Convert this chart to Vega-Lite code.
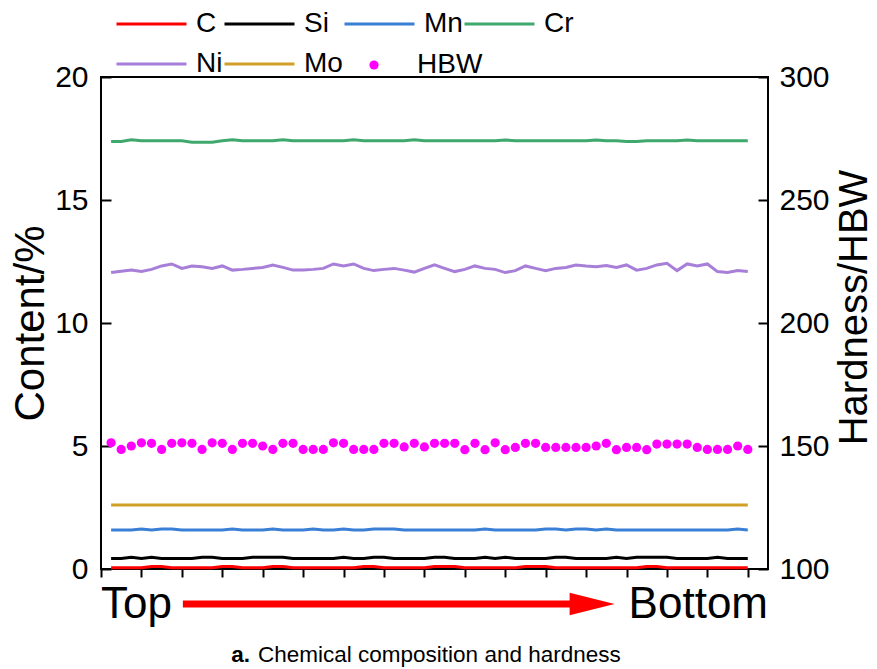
{
"$schema":"https://vega.github.io/schema/vega-lite/v6.json",
"width":667,"height":492,
"autosize":"none",
"padding":{"left":101,"top":77,"right":109,"bottom":100},
"background":"white",
"config":{"font":"Liberation Sans","view":{"stroke":"black","strokeWidth":2},"axis":{"grid":false,"domain":false,"labelColor":"black","titleColor":"black","tickColor":"black","tickWidth":2}},
"datasets":{"main":[
{"x":1,"C":0.05,"Si":0.43,"Mn":1.59,"Cr":17.38,"Ni":12.05,"Mo":2.6,"HBW":151.3},
{"x":2,"C":0.05,"Si":0.43,"Mn":1.59,"Cr":17.38,"Ni":12.10,"Mo":2.6,"HBW":148.6},
{"x":3,"C":0.05,"Si":0.48,"Mn":1.59,"Cr":17.45,"Ni":12.15,"Mo":2.6,"HBW":150.0},
{"x":4,"C":0.05,"Si":0.43,"Mn":1.63,"Cr":17.41,"Ni":12.09,"Mo":2.6,"HBW":151.3},
{"x":5,"C":0.1,"Si":0.48,"Mn":1.59,"Cr":17.41,"Ni":12.18,"Mo":2.6,"HBW":151.1},
{"x":6,"C":0.1,"Si":0.43,"Mn":1.63,"Cr":17.41,"Ni":12.32,"Mo":2.6,"HBW":148.6},
{"x":7,"C":0.05,"Si":0.43,"Mn":1.63,"Cr":17.41,"Ni":12.40,"Mo":2.6,"HBW":151.1},
{"x":8,"C":0.05,"Si":0.43,"Mn":1.59,"Cr":17.41,"Ni":12.22,"Mo":2.6,"HBW":151.3},
{"x":9,"C":0.05,"Si":0.43,"Mn":1.59,"Cr":17.35,"Ni":12.32,"Mo":2.6,"HBW":151.1},
{"x":10,"C":0.05,"Si":0.48,"Mn":1.59,"Cr":17.35,"Ni":12.29,"Mo":2.6,"HBW":148.6},
{"x":11,"C":0.05,"Si":0.48,"Mn":1.59,"Cr":17.35,"Ni":12.22,"Mo":2.6,"HBW":151.3},
{"x":12,"C":0.1,"Si":0.43,"Mn":1.59,"Cr":17.41,"Ni":12.32,"Mo":2.6,"HBW":151.1},
{"x":13,"C":0.1,"Si":0.43,"Mn":1.63,"Cr":17.45,"Ni":12.15,"Mo":2.6,"HBW":148.6},
{"x":14,"C":0.05,"Si":0.43,"Mn":1.59,"Cr":17.41,"Ni":12.18,"Mo":2.6,"HBW":151.1},
{"x":15,"C":0.05,"Si":0.48,"Mn":1.59,"Cr":17.41,"Ni":12.22,"Mo":2.6,"HBW":151.1},
{"x":16,"C":0.05,"Si":0.48,"Mn":1.59,"Cr":17.41,"Ni":12.26,"Mo":2.6,"HBW":150.0},
{"x":17,"C":0.1,"Si":0.48,"Mn":1.63,"Cr":17.41,"Ni":12.36,"Mo":2.6,"HBW":148.6},
{"x":18,"C":0.1,"Si":0.48,"Mn":1.59,"Cr":17.45,"Ni":12.26,"Mo":2.6,"HBW":151.1},
{"x":19,"C":0.05,"Si":0.43,"Mn":1.59,"Cr":17.41,"Ni":12.15,"Mo":2.6,"HBW":151.1},
{"x":20,"C":0.05,"Si":0.43,"Mn":1.59,"Cr":17.41,"Ni":12.15,"Mo":2.6,"HBW":148.6},
{"x":21,"C":0.05,"Si":0.43,"Mn":1.63,"Cr":17.41,"Ni":12.18,"Mo":2.6,"HBW":148.6},
{"x":22,"C":0.05,"Si":0.43,"Mn":1.59,"Cr":17.41,"Ni":12.22,"Mo":2.6,"HBW":148.6},
{"x":23,"C":0.05,"Si":0.43,"Mn":1.59,"Cr":17.41,"Ni":12.40,"Mo":2.6,"HBW":151.3},
{"x":24,"C":0.05,"Si":0.48,"Mn":1.63,"Cr":17.41,"Ni":12.32,"Mo":2.6,"HBW":151.1},
{"x":25,"C":0.05,"Si":0.43,"Mn":1.59,"Cr":17.45,"Ni":12.40,"Mo":2.6,"HBW":148.6},
{"x":26,"C":0.1,"Si":0.43,"Mn":1.59,"Cr":17.41,"Ni":12.22,"Mo":2.6,"HBW":148.6},
{"x":27,"C":0.1,"Si":0.48,"Mn":1.63,"Cr":17.41,"Ni":12.13,"Mo":2.6,"HBW":148.6},
{"x":28,"C":0.05,"Si":0.48,"Mn":1.63,"Cr":17.41,"Ni":12.18,"Mo":2.6,"HBW":151.1},
{"x":29,"C":0.05,"Si":0.43,"Mn":1.63,"Cr":17.41,"Ni":12.22,"Mo":2.6,"HBW":151.1},
{"x":30,"C":0.05,"Si":0.43,"Mn":1.59,"Cr":17.41,"Ni":12.15,"Mo":2.6,"HBW":149.6},
{"x":31,"C":0.05,"Si":0.43,"Mn":1.59,"Cr":17.45,"Ni":12.07,"Mo":2.6,"HBW":151.1},
{"x":32,"C":0.05,"Si":0.43,"Mn":1.59,"Cr":17.41,"Ni":12.22,"Mo":2.6,"HBW":149.6},
{"x":33,"C":0.1,"Si":0.48,"Mn":1.59,"Cr":17.41,"Ni":12.36,"Mo":2.6,"HBW":151.1},
{"x":34,"C":0.1,"Si":0.48,"Mn":1.59,"Cr":17.41,"Ni":12.22,"Mo":2.6,"HBW":151.1},
{"x":35,"C":0.1,"Si":0.43,"Mn":1.59,"Cr":17.41,"Ni":12.09,"Mo":2.6,"HBW":151.1},
{"x":36,"C":0.05,"Si":0.43,"Mn":1.59,"Cr":17.41,"Ni":12.18,"Mo":2.6,"HBW":148.5},
{"x":37,"C":0.05,"Si":0.43,"Mn":1.59,"Cr":17.41,"Ni":12.32,"Mo":2.6,"HBW":151.1},
{"x":38,"C":0.05,"Si":0.48,"Mn":1.63,"Cr":17.41,"Ni":12.22,"Mo":2.6,"HBW":148.5},
{"x":39,"C":0.05,"Si":0.43,"Mn":1.59,"Cr":17.41,"Ni":12.18,"Mo":2.6,"HBW":151.3},
{"x":40,"C":0.05,"Si":0.48,"Mn":1.59,"Cr":17.44,"Ni":12.05,"Mo":2.6,"HBW":148.5},
{"x":41,"C":0.05,"Si":0.43,"Mn":1.59,"Cr":17.41,"Ni":12.13,"Mo":2.6,"HBW":149.4},
{"x":42,"C":0.1,"Si":0.43,"Mn":1.59,"Cr":17.41,"Ni":12.32,"Mo":2.6,"HBW":151.1},
{"x":43,"C":0.1,"Si":0.43,"Mn":1.59,"Cr":17.41,"Ni":12.22,"Mo":2.6,"HBW":151.1},
{"x":44,"C":0.1,"Si":0.43,"Mn":1.63,"Cr":17.41,"Ni":12.13,"Mo":2.6,"HBW":149.4},
{"x":45,"C":0.05,"Si":0.48,"Mn":1.63,"Cr":17.41,"Ni":12.22,"Mo":2.6,"HBW":149.4},
{"x":46,"C":0.05,"Si":0.48,"Mn":1.59,"Cr":17.41,"Ni":12.26,"Mo":2.6,"HBW":149.4},
{"x":47,"C":0.05,"Si":0.43,"Mn":1.63,"Cr":17.41,"Ni":12.36,"Mo":2.6,"HBW":149.4},
{"x":48,"C":0.05,"Si":0.43,"Mn":1.63,"Cr":17.41,"Ni":12.32,"Mo":2.6,"HBW":149.4},
{"x":49,"C":0.05,"Si":0.43,"Mn":1.59,"Cr":17.44,"Ni":12.29,"Mo":2.6,"HBW":150.0},
{"x":50,"C":0.05,"Si":0.43,"Mn":1.63,"Cr":17.41,"Ni":12.34,"Mo":2.6,"HBW":151.1},
{"x":51,"C":0.05,"Si":0.48,"Mn":1.59,"Cr":17.41,"Ni":12.26,"Mo":2.6,"HBW":148.5},
{"x":52,"C":0.05,"Si":0.43,"Mn":1.59,"Cr":17.38,"Ni":12.36,"Mo":2.6,"HBW":149.4},
{"x":53,"C":0.05,"Si":0.48,"Mn":1.59,"Cr":17.38,"Ni":12.15,"Mo":2.6,"HBW":149.4},
{"x":54,"C":0.1,"Si":0.48,"Mn":1.59,"Cr":17.41,"Ni":12.22,"Mo":2.6,"HBW":148.5},
{"x":55,"C":0.1,"Si":0.48,"Mn":1.59,"Cr":17.41,"Ni":12.36,"Mo":2.6,"HBW":150.8},
{"x":56,"C":0.05,"Si":0.48,"Mn":1.59,"Cr":17.41,"Ni":12.43,"Mo":2.6,"HBW":150.8},
{"x":57,"C":0.05,"Si":0.43,"Mn":1.59,"Cr":17.41,"Ni":12.13,"Mo":2.6,"HBW":150.8},
{"x":58,"C":0.05,"Si":0.43,"Mn":1.59,"Cr":17.44,"Ni":12.40,"Mo":2.6,"HBW":150.8},
{"x":59,"C":0.05,"Si":0.43,"Mn":1.59,"Cr":17.41,"Ni":12.32,"Mo":2.6,"HBW":149.4},
{"x":60,"C":0.05,"Si":0.43,"Mn":1.59,"Cr":17.41,"Ni":12.40,"Mo":2.6,"HBW":148.6},
{"x":61,"C":0.05,"Si":0.48,"Mn":1.59,"Cr":17.41,"Ni":12.09,"Mo":2.6,"HBW":148.6},
{"x":62,"C":0.05,"Si":0.43,"Mn":1.59,"Cr":17.41,"Ni":12.05,"Mo":2.6,"HBW":148.6},
{"x":63,"C":0.05,"Si":0.43,"Mn":1.63,"Cr":17.41,"Ni":12.13,"Mo":2.6,"HBW":150.0},
{"x":64,"C":0.05,"Si":0.43,"Mn":1.59,"Cr":17.41,"Ni":12.09,"Mo":2.6,"HBW":148.6}
]},
"data":{"name":"main"},
"layer":[
{"transform":[{"fold":["C","Si","Mn","Cr","Ni","Mo"],"as":["element","content"]}],
 "mark":{"type":"line","strokeWidth":3},
 "encoding":{
  "x":{"field":"x","type":"quantitative","scale":{"domain":[0,66],"nice":false,"zero":false},
       "axis":{"orient":"bottom","values":[0,2,4,6,8,10,12,14,16,18,20,22,24,26,28,30,32,34,36,38,40,42,44,46,48,50,52,54,56,58,60,62,64],"labels":false,"tickSize":8,"title":null}},
  "y":{"field":"content","type":"quantitative","scale":{"domain":[0,20],"nice":false},
       "axis":{"orient":"left","values":[0,5,10,15,20],"tickSize":-10,"labelPadding":23,"labelFontSize":30,"title":"Content/%","titleFontSize":42,"titleFontWeight":"normal","titleAngle":270,"titleBaseline":"middle","titleAlign":"center","titleX":-71,"titleY":246}},
  "stroke":{"field":"element","type":"nominal",
       "scale":{"domain":["C","Si","Mn","Cr","Ni","Mo"],"range":["#ff0000","#000000","#3a7fd6","#3ea86d","#a77fd8","#cf9f26"]},
       "legend":{"orient":"none","legendX":14,"legendY":-67,"columns":4,"direction":"horizontal","title":null,"symbolType":"stroke","symbolSize":4900,"symbolStrokeWidth":3,"clipHeight":28,"labelFontSize":28,"labelOffset":8,"columnPadding":-9,"rowPadding":12,"padding":0,"labelColor":"black"}}
 }},
{"mark":{"type":"point","filled":true,"shape":"circle","size":85,"opacity":1},
 "encoding":{
  "x":{"field":"x","type":"quantitative"},
  "y":{"field":"HBW","type":"quantitative","scale":{"domain":[100,300],"nice":false,"zero":false},
       "axis":{"orient":"right","values":[100,150,200,250,300],"tickSize":-10,"labelPadding":21,"labelFontSize":30,"title":"Hardness/HBW","titleFontSize":40,"titleFontWeight":"normal","titleAngle":270,"titleBaseline":"middle","titleAlign":"center","titleX":86,"titleY":230}},
  "fill":{"datum":"HBW","scale":{"domain":["HBW"],"range":["#ff00ff"]},
       "legend":{"orient":"none","legendX":259,"legendY":-26,"title":null,"symbolType":"circle","symbolSize":85,"labelFontSize":28,"labelOffset":29,"padding":0,"symbolStrokeWidth":0,"labelColor":"black"}}
 }},
{"data":{"values":[{"x1":8.1,"x2":47,"y":-1.42}]},
 "mark":{"type":"rule","color":"#ff0000","strokeWidth":7},
 "encoding":{"x":{"field":"x1","type":"quantitative"},"x2":{"field":"x2"},
  "y":{"field":"y","type":"quantitative","scale":{"domain":[0,20],"nice":false},"axis":null}}},
{"data":{"values":[{"x":48.6,"y":-1.42}]},
 "mark":{"type":"point","filled":true,"shape":"M-1,-0.5L1,0L-1,0.5Z","size":2025,"color":"#ff0000","opacity":1,"strokeWidth":0},
 "encoding":{"x":{"field":"x","type":"quantitative"},
  "y":{"field":"y","type":"quantitative","scale":{"domain":[0,20],"nice":false},"axis":null}}},
{"data":{"values":[{"x":0,"y":-2,"label":"Top"}]},
 "mark":{"type":"text","fontSize":44,"baseline":"alphabetic","align":"left","color":"black"},
 "encoding":{"x":{"field":"x","type":"quantitative"},
  "y":{"field":"y","type":"quantitative","scale":{"domain":[0,20],"nice":false},"axis":null},
  "text":{"field":"label"}}},
{"data":{"values":[{"x":66,"y":-2,"label":"Bottom"}]},
 "mark":{"type":"text","fontSize":44,"baseline":"alphabetic","align":"right","color":"black"},
 "encoding":{"x":{"field":"x","type":"quantitative"},
  "y":{"field":"y","type":"quantitative","scale":{"domain":[0,20],"nice":false},"axis":null},
  "text":{"field":"label"}}},
{"data":{"values":[{"x":14.74,"y":-3.78,"label":"a."}]},
 "mark":{"type":"text","fontSize":22.5,"fontWeight":"bold","baseline":"alphabetic","align":"right","color":"black"},
 "encoding":{"x":{"field":"x","type":"quantitative"},
  "y":{"field":"y","type":"quantitative","scale":{"domain":[0,20],"nice":false},"axis":null},
  "text":{"field":"label"}}},
{"data":{"values":[{"x":15.54,"y":-3.78,"label":"Chemical composition and hardness"}]},
 "mark":{"type":"text","fontSize":22.5,"baseline":"alphabetic","align":"left","color":"black"},
 "encoding":{"x":{"field":"x","type":"quantitative"},
  "y":{"field":"y","type":"quantitative","scale":{"domain":[0,20],"nice":false},"axis":null},
  "text":{"field":"label"}}}
],
"resolve":{"scale":{"y":"independent"}}
}
